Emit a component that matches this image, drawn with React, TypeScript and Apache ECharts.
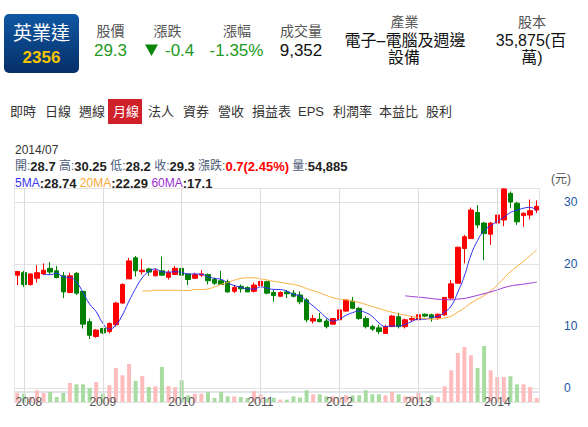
import React, { useEffect, useRef } from 'react';
import * as echarts from 'echarts';

const FONT = '"Liberation Sans", "Noto Sans CJK TC", "DejaVu Sans", sans-serif';

// Monthly categories 2007/12 .. 2014/07
const months: string[] = (() => {
  const out: string[] = ['2007/12'];
  for (let y = 2008; y <= 2014; y++) {
    for (let m = 1; m <= 12; m++) {
      if (y === 2014 && m > 7) break;
      out.push(`${y}/${m < 10 ? '0' + m : m}`);
    }
  }
  return out;
})();

const opens = [18.2,18.6,16.7,17.7,18.4,19.3,18.9,18.1,15.4,18.5, 15.6,10.7,8.3,9.6,9.1,10.2,13.7,17.6,21.0,18.75, 19.2,18.1,18.9,17.85,18.3,19.3,18.4,17.7,18.2,18.3, 17.5,17.3,17.15,15.6,16.4,16.2,15.6,16.5,17.15,15.4, 14.8,15.5,15.3,15.0,14.2,10.8,11.1,10.8,10.3,11.0, 12.4,14.0,12.85,11.2,9.9,9.7,8.8,9.9,11.5,9.9, 11.0,11.0,11.9,11.8,11.3,11.8,14.5,16.9,22.5,24.1, 28.3,26.6,24.8,26.6,27.1,31.4,29.8,27.8,27.9,28.7];
const closes = [18.8,16.7,18.4,18.6,19.0,18.7,17.8,15.5,18.1,15.3, 10.3,8.5,9.35,8.9,10.4,13.7,16.7,20.5,18.9,19.0, 18.7,18.9,18.2,18.65,19.3,18.2,17.5,18.3,18.4,17.3, 16.9,16.7,15.5,16.2,16.0,15.5,16.6,17.2,15.3,14.9, 15.4,15.2,14.8,13.9,11.0,11.2,10.7,9.9,11.2,12.6, 14.2,12.85,11.2,9.9,9.5,9.1,9.9,11.6,9.9,11.0, 11.2,11.8,11.6,11.3,11.9,14.6,16.8,22.7,24.4,28.7, 26.3,24.9,26.6,27.9,32.1,30.0,26.8,28.2,28.6,29.3];
const lows = [16.6,16.3,16.5,17.0,18.2,18.3,17.7,14.5,15.3,15.0, 9.6,7.9,8.1,8.7,8.8,9.9,13.6,17.6,18.0,18.3, 18.1,18.0,18.1,17.5,18.3,18.1,16.6,17.6,17.9,16.7, 16.6,16.6,15.4,15.3,15.4,15.5,15.4,16.3,15.1,13.9, 14.7,14.5,14.6,13.5,10.6,10.4,10.6,9.6,10.2,10.8, 12.3,12.7,11.0,9.6,9.2,8.7,8.8,9.9,9.6,9.6, 10.7,10.9,11.4,10.7,11.0,11.6,14.3,16.9,20.1,24.1, 25.75,20.6,23.1,26.3,26.1,29.0,26.3,26.0,27.2,28.2];
const highs = [18.8,18.9,18.5,19.8,20.1,20.3,19.7,18.7,18.6,18.7, 15.6,11.2,9.5,9.7,10.6,13.9,16.9,21.0,21.3,20.8, 19.4,19.3,21.2,19.0,19.7,20.5,18.4,18.6,19.0,18.5, 17.8,18.9,17.5,16.6,16.7,16.4,17.0,17.5,17.3,15.8, 15.6,15.8,15.8,15.6,14.5,11.8,12.1,11.2,11.3,12.8, 14.3,14.7,13.1,11.6,10.2,10.2,10.2,11.8,12.15,11.2, 11.6,12.7,12.0,12.0,12.0,14.7,17.4,22.8,24.7,29.1, 29.5,26.8,26.8,29.5,32.2,31.7,30.05,28.3,30.4,30.25];
const volumes = [124000,114000,69000,161000,124000,138000,69000,124000,261000,243000, 243000,193000,275000,114000,230000,468000,367000,523000,289000,358000, 206000,216000,481000,220000,202000,298000,92000,114000,114000,138000, 55000,138000,78000,78000,69000,55000,151000,106000,45000,59000, 32000,32000,78000,62000,161000,106000,106000,78000,78000,69000, 92000,92000,92000,161000,106000,106000,92000,138000,106000,78000, 78000,124000,20000,92000,69000,216000,436000,674000,756000,642000, 468000,770000,436000,344000,344000,353000,243000,243000,206000,54885];

const maLatest = { ma5: '28.74', ma20: '22.29', ma60: '17.1' };

const headerLabels = ['股價', '漲跌', '漲幅', '成交量', '產業', '股本'];
const headerValues = ['29.3', '-0.4', '-1.35%', '9,352', '電子–電腦及週邊', '設備', '35,875(百', '萬)'];
const tabs: [string, number][] = [
  ['即時', 10], ['日線', 45], ['週線', 79], ['月線', 113], ['法人', 148], ['資券', 183],
  ['營收', 218], ['損益表', 252], ['EPS', 298], ['利潤率', 333], ['本益比', 379], ['股利', 426],
];

function ma(n: number): (number | string)[] {
  return closes.map((_, i) => {
    if (i < n - 1) return '-';
    let s = 0;
    for (let k = i - n + 1; k <= i; k++) s += closes[k];
    return +(s / n).toFixed(3);
  });
}

function T(text: string, x: number, y: number, size: number, fill: string, align = 'left', weight = 'normal', extra: any = {}) {
  return {
    type: 'text',
    z: 10,
    style: {
      text, x, y, fill,
      font: `${weight} ${size}px ${FONT}`,
      align, textAlign: align,
      verticalAlign: 'middle', textVerticalAlign: 'middle',
      ...extra,
    },
  };
}

const isJan = (_i: number, v: string) => v.endsWith('/01');

export default function App() {
  const ref = useRef<HTMLDivElement>(null);
  useEffect(() => {
    if (!ref.current) return;
    const chart = echarts.init(ref.current, null, { renderer: 'svg' });
    const last = closes.length - 1;
    const chg = closes[last] - closes[last - 1];
    const pct = (chg / closes[last - 1]) * 100;

    const graphic: any[] = [
      {
        type: 'rect', z: 9,
        shape: { x: 4, y: 14, width: 75, height: 59, r: 5 },
        style: {
          fill: new echarts.graphic.LinearGradient(0, 0, 0, 1, [
            { offset: 0, color: '#0f58a3' }, { offset: 1, color: '#062f68' },
          ]),
        },
      },
      T('英業達', 41.5, 33, 19, '#ffffff', 'center'),
      T('2356', 41.5, 57.5, 17, '#f6c400', 'center', 'bold'),
      T(headerLabels[0], 110.5, 30.5, 14, '#555555', 'center'),
      T(headerValues[0], 110.5, 50, 17, '#229922', 'center'),
      T(headerLabels[1], 167.5, 30.5, 14, '#555555', 'center'),
      { type: 'polygon', z: 10, shape: { points: [[145, 44.5], [158, 44.5], [151.5, 56]] }, style: { fill: '#0a850a' } },
      T(headerValues[1], 165, 50, 17, '#229922', 'left'),
      T(headerLabels[2], 237, 30.5, 14, '#555555', 'center'),
      T(headerValues[2], 236.5, 50, 17, '#229922', 'center'),
      T(headerLabels[3], 301, 30.5, 14, '#555555', 'center'),
      T(headerValues[3], 301, 50, 17, '#111111', 'center'),
      T(headerLabels[4], 404.5, 22, 14, '#555555', 'center'),
      T(headerValues[4], 405, 40, 16, '#111111', 'center'),
      T(headerValues[5], 404, 57, 16, '#111111', 'center'),
      T(headerLabels[5], 532, 22, 14, '#555555', 'center'),
      T(headerValues[6], 531, 40, 16, '#111111', 'center'),
      T(headerValues[7], 532, 57, 16, '#111111', 'center'),
      { type: 'rect', z: 9, shape: { x: 108, y: 99, width: 34, height: 25 }, style: { fill: '#d0202a' } },
      ...tabs.map(([t, x]) => T(t, x, 111, 13, t === '月線' ? '#ffffff' : '#333333', 'left')),
      T(months[last], 15, 150, 12, '#333333', 'left'),
      {
        type: 'text', z: 10,
        style: {
          x: 15, y: 166,
          text: `{l|開:}{v|${opens[last]}} {l|高:}{v|${highs[last]}} {l|低:}{v|${lows[last]}} {l|收:}{v|${closes[last]}} {l|漲跌:}{r|${chg.toFixed(1)}(${pct.toFixed(2)}%)} {l|量:}{v|${volumes[last].toLocaleString('en-US')}}`,
          font: `12px ${FONT}`, fill: '#333',
          verticalAlign: 'middle', textVerticalAlign: 'middle',
          rich: {
            l: { fill: '#4e5b78', font: `12px ${FONT}` },
            v: { fill: '#222222', font: `bold 13px ${FONT}` },
            r: { fill: '#ff0000', font: `bold 13px ${FONT}` },
          },
        },
      },
      {
        type: 'text', z: 10,
        style: {
          x: 15, y: 183,
          text: `{b|5MA}{v|:${maLatest.ma5}} {o|20MA}{v|:${maLatest.ma20}} {p|60MA}{v|:${maLatest.ma60}}`,
          font: `12px ${FONT}`, fill: '#333',
          verticalAlign: 'middle', textVerticalAlign: 'middle',
          rich: {
            b: { fill: '#3838f0', font: `12px ${FONT}` },
            o: { fill: '#f9a93a', font: `12px ${FONT}` },
            p: { fill: '#9a30d0', font: `12px ${FONT}` },
            v: { fill: '#222222', font: `bold 13px ${FONT}` },
          },
        },
      },
      { type: 'rect', z: 0, shape: { x: 14, y: 391, width: 526, height: 2 }, style: { fill: '#dfe5ec' } },
      { type: 'line', z: 0, shape: { x1: 14.5, y1: 182, x2: 14.5, y2: 402 }, style: { stroke: '#e6e6e6', lineWidth: 1 } },
      { type: 'line', z: 0, shape: { x1: 539.5, y1: 188, x2: 539.5, y2: 402 }, style: { stroke: '#e6e6e6', lineWidth: 1 } },
    ];

    chart.setOption({
      animation: false,
      backgroundColor: '#ffffff',
      textStyle: { fontFamily: FONT },
      graphic,
      grid: [
        { left: 14, right: 48, top: 188, bottom: 25 },
        { left: 14, right: 48, top: 322, bottom: 25 },
      ],
      xAxis: [
        {
          type: 'category', data: months, gridIndex: 0, boundaryGap: true,
          axisLine: { show: false }, axisTick: { show: false },
          axisLabel: {
            interval: isJan, margin: -6, color: '#555555', fontSize: 12,
            formatter: (v: string) => (v === '2008/01' ? '{f|2008}' : v.slice(0, 4)),
            rich: { f: { padding: [0, 0, 0, 10], color: '#555555', fontSize: 12 } },
          },
          splitLine: { show: true, interval: isJan, alignWithLabel: true, lineStyle: { color: '#dcdcdc', width: 1 } },
          z: 5,
        },
        { type: 'category', data: months, gridIndex: 1, show: false, boundaryGap: true },
      ],
      yAxis: [
        {
          type: 'value', gridIndex: 0, position: 'right',
          min: -2.2581, max: 32.2581, splitNumber: 3,
          axisLine: { show: false }, axisTick: { show: false },
          axisLabel: {
            margin: 24, align: 'left', color: '#2156a3', fontSize: 12,
            formatter: (v: number) => (Math.abs(v - Math.round(v / 10) * 10) < 1e-6 ? String(Math.round(v)) : ''),
          },
          splitLine: { lineStyle: { color: '#e2e2e2', width: 1 } },
          name: '(元)', nameLocation: 'end', nameGap: 3,
          nameTextStyle: { color: '#555555', fontSize: 12, align: 'left', padding: [0, 0, 0, 11] },
        },
        { type: 'value', gridIndex: 1, show: false, min: 0, max: 1100000, splitLine: { show: false } },
      ],
      series: [
        {
          type: 'bar', xAxisIndex: 1, yAxisIndex: 1, barWidth: 4, z: 1,
          data: volumes.map((v, i) => ({
            value: v,
            itemStyle: { color: closes[i] >= opens[i] ? '#ffbcbc' : '#a8dca0' },
          })),
        },
        {
          type: 'candlestick', xAxisIndex: 0, yAxisIndex: 0, barWidth: 5, z: 3,
          data: opens.map((o, i) => [o, closes[i], lows[i], highs[i]]),
          itemStyle: { color: '#ff0000', color0: '#008000', borderColor: '#ff0000', borderColor0: '#008000', borderWidth: 1 },
        },
        {
          type: 'line', data: ma(5), smooth: true, showSymbol: false, z: 4,
          lineStyle: { color: '#2c2cf5', width: 1 },
        },
        {
          type: 'line', data: ma(20), smooth: true, showSymbol: false, z: 4,
          lineStyle: { color: '#fbad3c', width: 1 },
        },
        {
          type: 'line', data: ma(60), smooth: true, showSymbol: false, z: 4,
          lineStyle: { color: '#9a32d0', width: 1 },
        },
      ],
    });
    return () => chart.dispose();
  }, []);
  return <div ref={ref} style={{ position: 'fixed', left: 0, top: 0, width: 588, height: 427 }} />;
}
